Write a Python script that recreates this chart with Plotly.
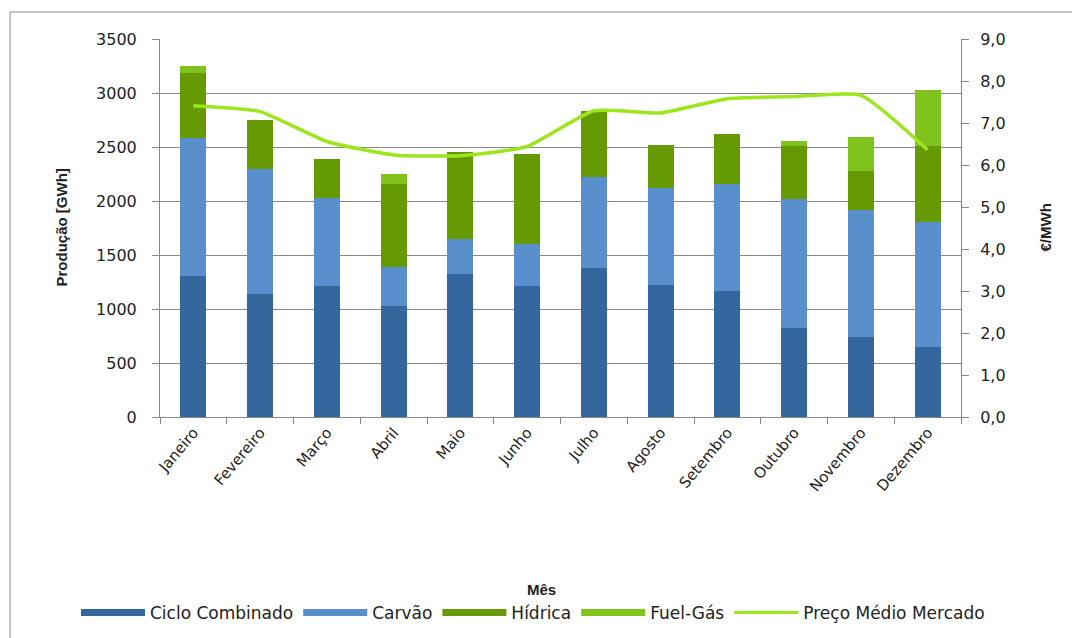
import plotly.graph_objects as go

meses = ["Janeiro", "Fevereiro", "Março", "Abril", "Maio", "Junho", "Julho",
         "Agosto", "Setembro", "Outubro", "Novembro", "Dezembro"]
ciclo_combinado = [1308, 1138, 1212, 1027, 1321, 1212, 1382, 1221, 1169, 826, 742, 649]
carvao = [1274, 1157, 814, 364, 324, 387, 844, 903, 987, 1191, 1175, 1154]
hidrica = [603, 451, 367, 767, 813, 838, 603, 396, 463, 488, 365, 702]
fuel_gas = [62, 0, 0, 93, 0, 0, 0, 0, 0, 46, 310, 526]
preco_medio = [7.41, 7.27, 6.56, 6.24, 6.22, 6.44, 7.29, 7.24, 7.58, 7.63, 7.66, 6.36]

names = ["Ciclo Combinado", "Carvão", "Hídrica", "Fuel-Gás"]
colors = ["#34679e", "#5a8fce", "#669a04", "#80c31c"]
line_color = "#9de61d"

# page body adds 8px offset; target pixel positions are given in screenshot coords
OFF = 8
W, H = 1080, 638
PX0, PY0, PX1, PY1 = 160, 39, 961, 417  # plot area in screenshot coords
L, T = PX0 - OFF, PY0 - OFF
pw, ph = PX1 - PX0, PY1 - PY0
R, B = W - L - pw, H - T - ph

def px_x(x):
    return (x - PX0) / pw

def px_y(y):
    return (PY1 - y) / ph

fig = go.Figure()
for nm, vals, c in zip(names, [ciclo_combinado, carvao, hidrica, fuel_gas], colors):
    fig.add_trace(go.Bar(x=meses, y=vals, name=nm, marker=dict(color=c, line=dict(width=0)),
                         showlegend=False, legendgroup=nm))
fig.add_trace(go.Scatter(x=meses, y=preco_medio, name="Preço Médio Mercado", yaxis="y2",
                         mode="lines", line=dict(color=line_color, width=3.5, shape="spline", smoothing=0.5),
                         showlegend=False, legendgroup="preco"))
# legend entries (wide swatches as in the original)
for nm, c in zip(names, colors):
    fig.add_trace(go.Scatter(x=[None], y=[None], name=nm, mode="lines",
                             line=dict(color=c, width=7), legendgroup=nm))
fig.add_trace(go.Scatter(x=[None], y=[None], name="Preço Médio Mercado", mode="lines",
                         line=dict(color=line_color, width=3), legendgroup="preco"))

font = "DejaVu Sans, Liberation Sans, Arial, sans-serif"
bold_font = "Liberation Sans, Arial, sans-serif"
tc = "#222"
fig.update_layout(
    width=W, height=H,
    margin=dict(l=L, r=R, t=T, b=B),
    barmode="stack", bargap=0.61,
    paper_bgcolor="white", plot_bgcolor="white",
    separators=",.",
    font=dict(family=font, size=15, color=tc),
    xaxis=dict(showline=True, linecolor="#888", linewidth=1, ticks="outside", tickson="boundaries",
               ticklen=6, tickcolor="#888", tickangle=-50, tickfont=dict(size=15, color=tc),
               showgrid=False),
    yaxis=dict(range=[0, 3500], dtick=500, tickformat="d", showline=True, linecolor="#888",
               ticks="outside", ticklen=7, tickcolor="#888", showgrid=True, gridcolor="#888",
               gridwidth=1, tickfont=dict(size=16, color=tc), zeroline=False,
               ticklabelstandoff=12),
    yaxis2=dict(range=[0, 9], dtick=1, tickformat=".1f", overlaying="y", side="right",
                showline=True, linecolor="#888", ticks="outside", ticklen=7, tickcolor="#888",
                showgrid=False, zeroline=False, tickfont=dict(size=16, color=tc),
                ticklabelstandoff=8),
    legend=dict(orientation="h", x=px_x(76), xanchor="left", y=px_y(613), yanchor="middle",
                font=dict(size=17, color=tc), itemwidth=64, traceorder="normal"),
    annotations=[
        dict(text="<b>Produção [GWh]</b>", x=px_x(50), y=0.5, xref="paper", yref="paper",
             textangle=-90, showarrow=False, font=dict(size=15, color=tc, family=bold_font)),
        dict(text="<b>€/MWh</b>", x=px_x(1055), y=0.5, xref="paper", yref="paper",
             textangle=-90, showarrow=False, font=dict(size=15, color=tc, family=bold_font)),
        dict(text="<b>Mês</b>", x=px_x(541), y=px_y(600), xref="paper", yref="paper",
             showarrow=False, font=dict(size=15, color=tc, family=bold_font)),
    ],
    shapes=[dict(type="rect", xref="paper", yref="paper", x0=px_x(10), x1=px_x(1100),
                 y0=px_y(680), y1=px_y(12), line=dict(color="#888", width=1), layer="below")],
)
fig.write_html("out.html")
